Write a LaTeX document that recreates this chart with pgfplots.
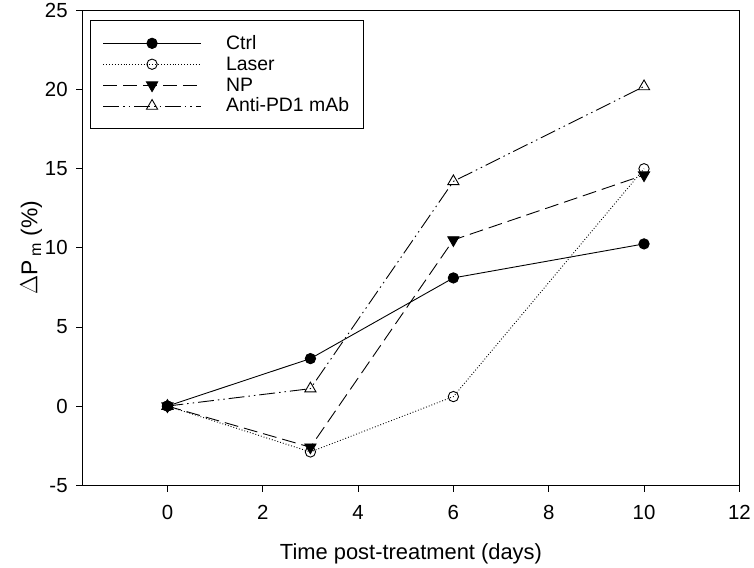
\documentclass[border=0pt]{standalone}
\usepackage{pgfplots}
\pgfplotsset{compat=1.18}
\usepackage{fontspec}
\setmainfont{Liberation Sans}
\begin{document}
\begin{tikzpicture}
\path (-83pt,-79pt) rectangle (671pt,484pt);
\begin{axis}[
  at={(0pt,0pt)}, anchor=south west,
  scale only axis, width=660pt, height=477pt,
  xmin=-1.78, xmax=12, ymin=-5, ymax=25,
  xtick={0,2,4,6,8,10,12}, ytick={-5,0,5,10,15,20,25},
  tick align=outside, tick pos=left,
  major tick length=6.5pt,
  axis line style={line width=0.9pt},
  tick style={line width=0.9pt, black},
  font=\fontsize{20}{24}\selectfont,
  /pgf/number format/assume math mode=true,
  every tick label/.append style={font=\fontsize{20.5}{24}\selectfont},
  xticklabel style={yshift=-10pt},
  yticklabel style={xshift=-5pt},
  xlabel={Time post-treatment (days)},
  ylabel={$\Delta$P\,\textsubscript{m} (\%)},
  xlabel style={font=\fontsize{22}{25}\selectfont, yshift=-17pt},
  ylabel style={font=\fontsize{23}{26}\selectfont, yshift=-4pt},
  legend style={at={(0.012,0.979)}, anchor=north west, draw=black, line width=0.9pt,
    font=\fontsize{19.5}{22}\selectfont, row sep=0pt, inner xsep=12pt, inner ysep=12pt,
    nodes={inner ysep=1.5pt, text height=15pt, text depth=3pt}},
  legend cell align=left,
  legend image code/.code={\draw[mark repeat=2,mark phase=2,#1] plot coordinates {(0pt,0pt) (49pt,0pt) (98pt,0pt)};},
  every axis plot/.append style={line width=0.9pt, black},
]
\addplot[solid, mark=*, mark size=5.2pt, mark options={solid, fill=black}] coordinates {(0,0) (3,3.0) (6,8.1) (10,10.25)};
\addlegendentry{\hspace{23pt}Ctrl}
\addplot[dotted, mark=o, mark size=5.2pt, mark options={solid, fill=white}] coordinates {(0,0) (3,-2.9) (6,0.6) (10,15.0)};
\addlegendentry{\hspace{23pt}Laser}
\addplot[dash pattern=on 14pt off 6pt, mark=triangle*, mark size=6.5pt, mark options={solid, fill=black, rotate=180}] coordinates {(0,0) (3,-2.6) (6,10.5) (10,14.6)};
\addlegendentry{\hspace{23pt}NP}
\addplot[dash pattern=on 16pt off 4pt on 1.5pt off 4pt on 1.5pt off 4pt, mark=triangle, mark size=6.5pt, mark options={solid, fill=white}] coordinates {(0,0) (3,1.1) (6,14.2) (10,20.2)};
\addlegendentry{\hspace{23pt}Anti-PD1 mAb}
\end{axis}
\end{tikzpicture}
\end{document}
